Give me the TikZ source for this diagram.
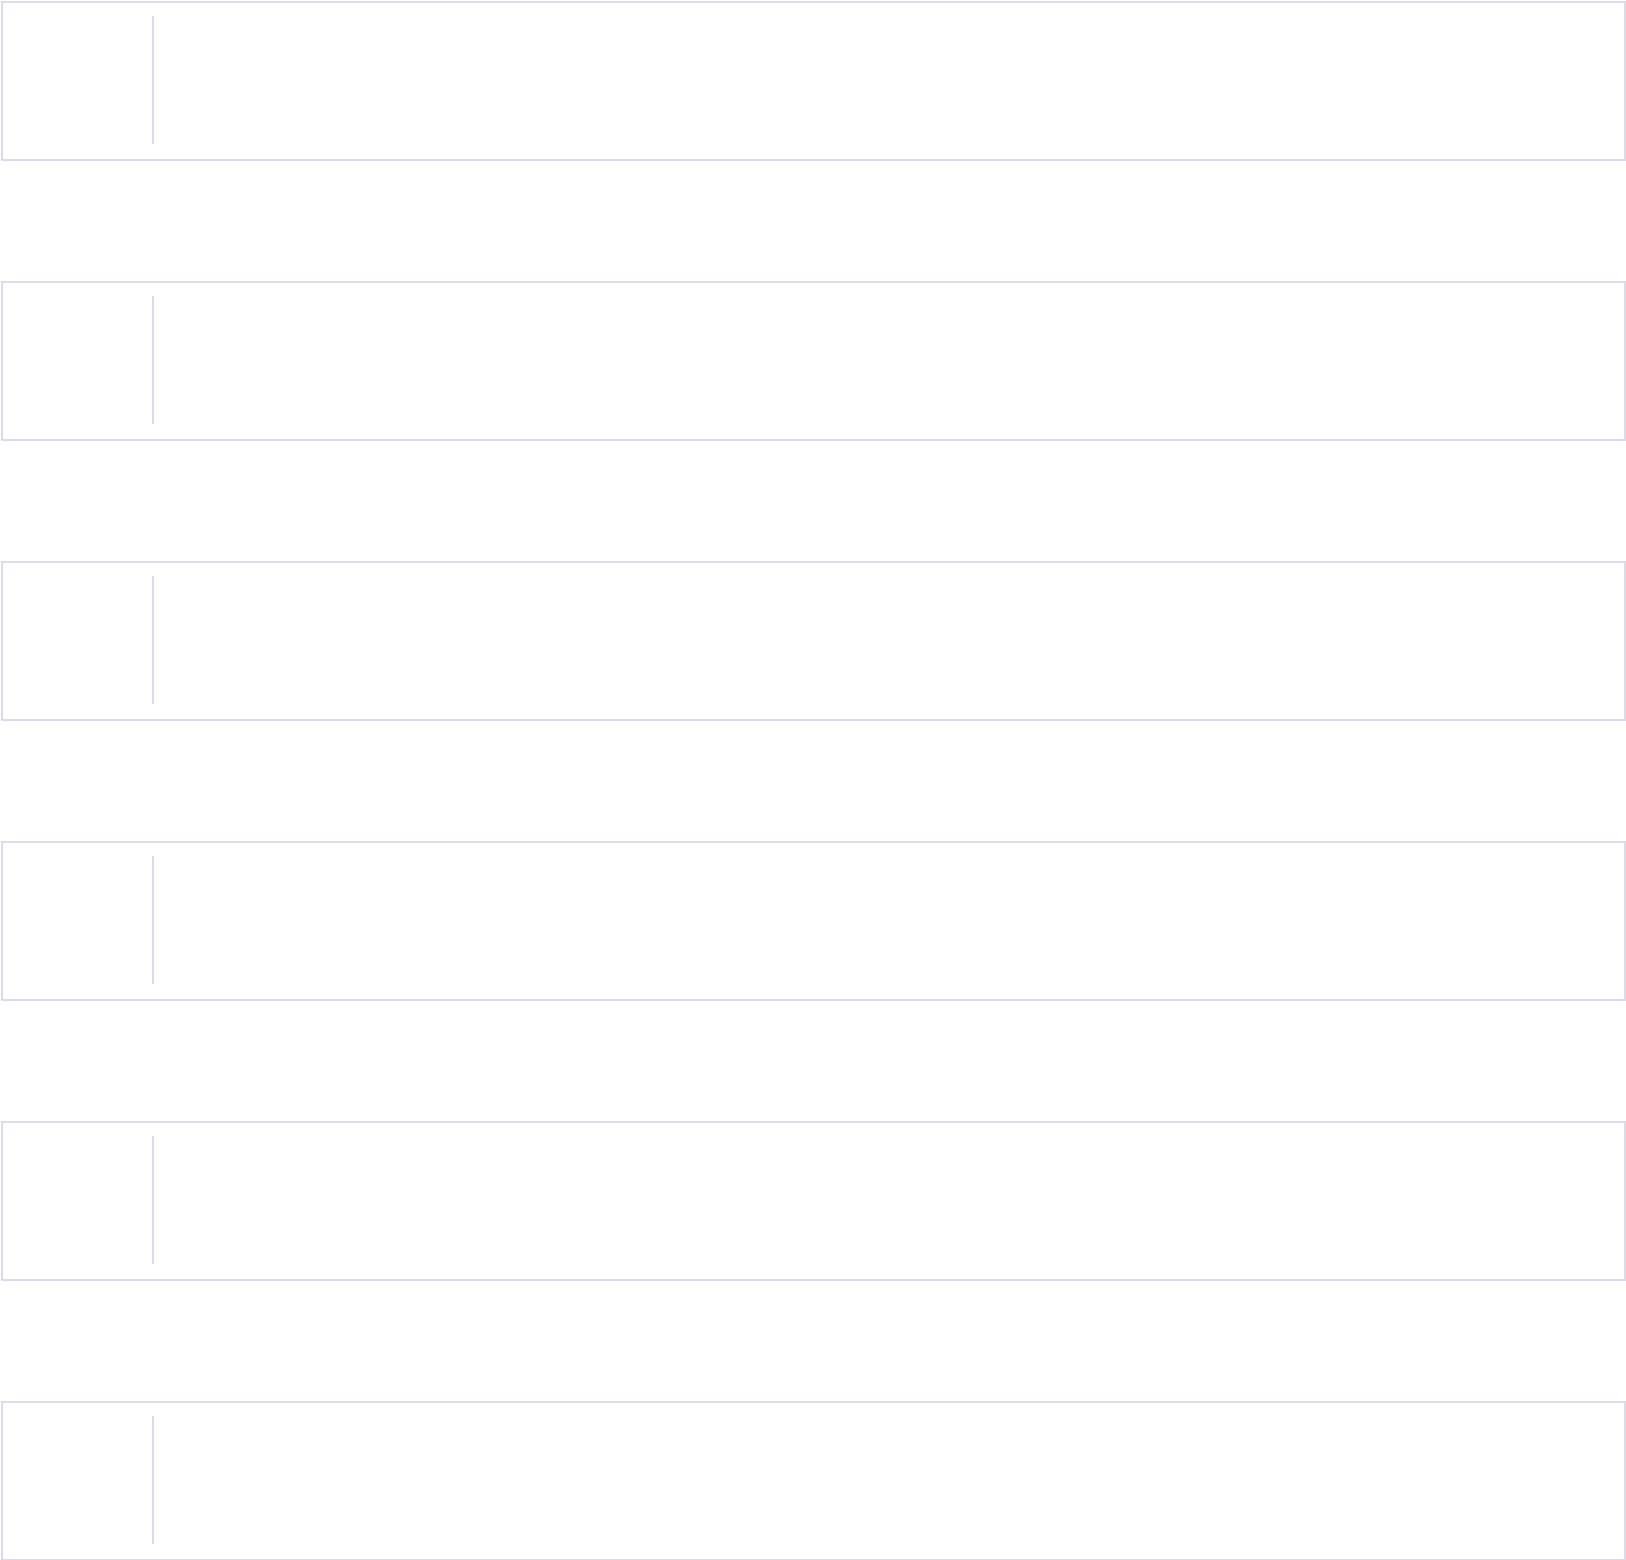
\documentclass[tikz,border=0pt]{standalone}
\definecolor{lav}{HTML}{DDDAEA}
\begin{document}
\begin{tikzpicture}[x=1pt,y=-1pt,box/.style={draw=lav,line width=2pt},sep/.style={draw=lav,line width=2pt}]
\useasboundingbox (0,0) rectangle (1626,1560);
\foreach \i in {0,...,5}{
  \pgfmathsetmacro{\t}{1+280*\i}
  \node[box,minimum width=1623pt,minimum height=158pt,inner sep=0pt,anchor=north west] (b\i) at (1,\t) {};
  \coordinate (s\i) at (153,\t+15);
  \coordinate (e\i) at (153,\t+143);
  \draw[sep] (s\i) -- (e\i);
}
\end{tikzpicture}
\end{document}
